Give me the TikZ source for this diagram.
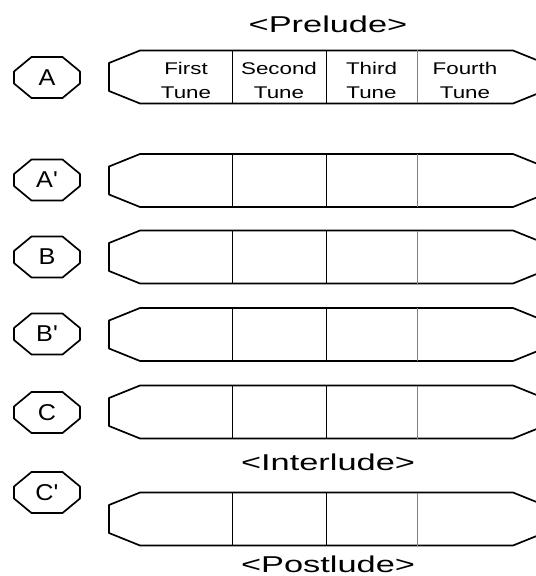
\documentclass[tikz,border=0pt]{standalone}
\usepackage{fontspec}
\setmainfont{Liberation Sans}
\newfontfamily\headfont[FakeStretch=1.5]{Liberation Sans}
\newfontfamily\tunefont[FakeStretch=1.32]{Liberation Sans}
\newfontfamily\markfont[FakeStretch=1.1]{Liberation Sans}

\tikzset{
  outline/.style={line width=1.7pt, line join=round},
  divider/.style={line width=1pt},
  headtext/.style={font=\headfont\fontsize{23}{26}\selectfont, anchor=base},
  tunetext/.style={font=\tunefont\fontsize{17}{24}\selectfont, align=center},
  marktext/.style={font=\markfont\fontsize{23}{24}\selectfont, inner sep=0pt},
}

\begin{document}
\begin{tikzpicture}[x=1bp, y=-1bp]
    \useasboundingbox (0,0) rectangle (536,576);

    % Octagon marks
    \foreach \name/\txt/\yc in {a/A/77.5, ap/A'/180, b/B/257, bp/B'/334, c/C/412.5, cp/C'/492.5} {
        \node[marktext] (mark-\name) at (47,\yc) {\txt};
        \draw[outline, shift={(mark-\name.center)}]
            (-15.5,-20.5) -- (15.5,-20.5) -- (33,-6) -- (33,6)
            -- (15.5,20.5) -- (-15.5,20.5) -- (-33,6) -- (-33,-6) -- cycle;
    }

    % Tune bars
    \foreach \name/\yc in {a/77, ap/180.5, b/257, bp/334.5, c/412, cp/519} {
        \draw[outline, shift={(0,\yc)}]
            (109,-14) -- (140,-26.5) -- (513,-26.5) -- (544,-14)
            -- (544,14) -- (513,26.5) -- (140,26.5) -- (109,14) -- cycle;
        \draw[divider, shift={(0,\yc)}] (232,-26.5) -- (232,26.5);
        \draw[divider, shift={(0,\yc)}] (326,-26.5) -- (326,26.5);
        \draw[divider, gray, shift={(0,\yc)}] (417,-26.5) -- (417,26.5);
    }

    % Tune names
    \node[tunetext] (tune1) at (186,80) {First\\Tune};
    \node[tunetext] (tune2) at (279,80) {Second\\Tune};
    \node[tunetext] (tune3) at (371.5,80) {Third\\Tune};
    \node[tunetext] (tune4) at (465,80) {Fourth\\Tune};

    % Headings
    \node[headtext] (prelude) at (328,33) {<Prelude>};
    \node[headtext] (interlude) at (328,470) {<Interlude>};
    \node[headtext] (postlude) at (328,572) {<Postlude>};
\end{tikzpicture}
\end{document}
